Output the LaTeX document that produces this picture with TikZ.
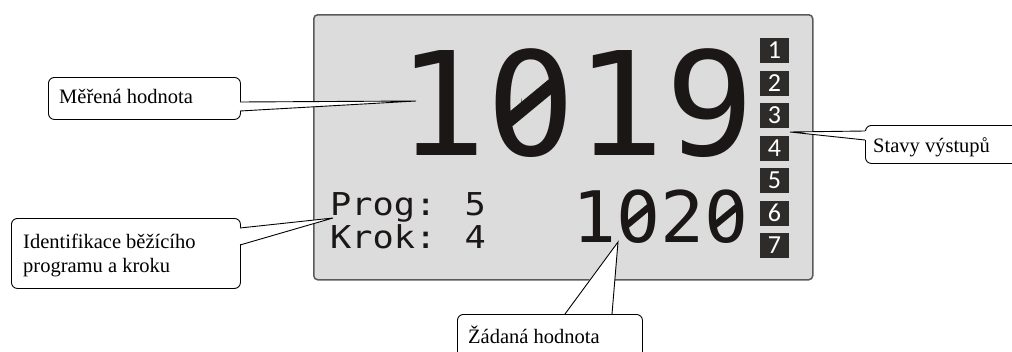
\documentclass[tikz,border=0pt]{standalone}
\usepackage{fontspec}
\setmainfont{Liberation Serif}
\newfontfamily\lcdfont{DejaVu Sans Mono}
\newfontfamily\ledfont{Carlito}
\definecolor{lcdgray}{HTML}{DCDCDC}
\definecolor{lcdframe}{HTML}{5A5A5A}
\definecolor{ledfill}{HTML}{2E2C2B}
\definecolor{lcdink}{HTML}{1A1716}
\begin{document}
\begin{tikzpicture}[x=1pt,y=-1pt,
  callbox/.style={draw=black, line width=0.9pt, fill=white, rounded corners=6pt},
  callwedge/.style={draw=black, line width=0.9pt, line join=miter},
  calltext/.style={anchor=base west, inner sep=0pt, font=\fontsize{20.5}{24}\selectfont},
  ledbox/.style={fill=ledfill, text=white, minimum width=29pt, minimum height=25pt, inner sep=0pt,
    font=\ledfont\fontsize{26}{26}\selectfont},
  lcdtext/.style={anchor=base west, inner sep=0pt, text=lcdink},
  dotcover/.style={fill=lcdgray},
  slash/.style={draw=lcdink, line cap=butt}]
\useasboundingbox (0,0) rectangle (1012,351);
% display panel
\node[draw=lcdframe, line width=1.5pt, fill=lcdgray, rounded corners=4pt, anchor=north west,
  minimum width=499pt, minimum height=265pt, inner sep=0pt] (panel) at (313,14) {};
\node[lcdtext, font=\lcdfont\fontsize{144}{144}\selectfont, xscale=1.03] (big) at (397,155) {1019};
\node[lcdtext, font=\lcdfont\fontsize{71}{71}\selectfont, xscale=1.03] (set) at (572,242) {1020};
\node[lcdtext, font=\lcdfont\fontsize{31.5}{31.5}\selectfont, xscale=1.12] (prog) at (330,215) {Prog: 5};
\node[lcdtext, font=\lcdfont\fontsize{31.5}{31.5}\selectfont, xscale=1.12] (krok) at (330,248) {Krok: 4};
% slashed zeros
\coordinate (z1) at (531.5,102);
\coordinate (z2) at (638,216);
\coordinate (z3) at (726,216);
\fill[dotcover] (z1) ellipse (10 and 15);
\draw[slash, line width=13pt] ([shift={(-23,19)}]z1) -- ([shift={(23,-19)}]z1);
\foreach \z in {z2,z3}{
  \fill[dotcover] (\z) ellipse (5 and 7.5);
  \draw[slash, line width=6.5pt] ([shift={(-11.5,9.5)}]\z) -- ([shift={(11.5,-9.5)}]\z);
}
% output LEDs
\foreach \i in {1,...,7}{
  \node[ledbox] (led\i) at (774.5,{50.5+(\i-1)*32.5}) {\i};
}
% callout: Měřená hodnota
\node[callbox, anchor=north west, minimum width=192pt, minimum height=42pt, inner sep=0pt] (mbox) at (48,77) {};
\coordinate (mtip) at (416,101);
\coordinate (ma) at (240,102);
\coordinate (mb) at (240,111);
\fill[white] ([xshift=-2pt]ma) -- (mtip) -- ([xshift=-2pt]mb) -- cycle;
\draw[callwedge] (ma) -- (mtip) -- (mb);
\node[calltext] (mtext) at (59,103) {Měřená hodnota};
% callout: Identifikace
\node[callbox, anchor=north west, minimum width=229pt, minimum height=70pt, inner sep=0pt] (ibox) at (11,218) {};
\coordinate (itip) at (333,218);
\coordinate (ia) at (240,228);
\coordinate (ib) at (240,245);
\fill[white] ([xshift=-2pt]ia) -- (itip) -- ([xshift=-2pt]ib) -- cycle;
\draw[callwedge] (ia) -- (itip) -- (ib);
\node[calltext] (itext1) at (23,248) {Identifikace běžícího};
\node[calltext] (itext2) at (23,272) {programu a kroku};
% callout: Stavy výstupů
\node[callbox, anchor=north west, minimum width=170pt, minimum height=38pt, inner sep=0pt] (sbox) at (865,125) {};
\coordinate (stip) at (790,132);
\coordinate (sa) at (865,131);
\coordinate (sb) at (865,140);
\fill[white] ([xshift=2pt]sa) -- (stip) -- ([xshift=2pt]sb) -- cycle;
\draw[callwedge] (sa) -- (stip) -- (sb);
\node[calltext] (stext) at (873,152) {Stavy výstupů};
% callout: Žádaná hodnota
\node[callbox, anchor=north west, minimum width=185pt, minimum height=60pt, inner sep=0pt] (zbox) at (457,314) {};
\coordinate (ztip) at (618,242);
\coordinate (za) at (565,314);
\coordinate (zb) at (612,314);
\fill[white] ([yshift=2pt]za) -- (ztip) -- ([yshift=2pt]zb) -- cycle;
\draw[callwedge] (za) -- (ztip) -- (zb);
\node[calltext] (ztext) at (468,343) {Žádaná hodnota};
\end{tikzpicture}
\end{document}
